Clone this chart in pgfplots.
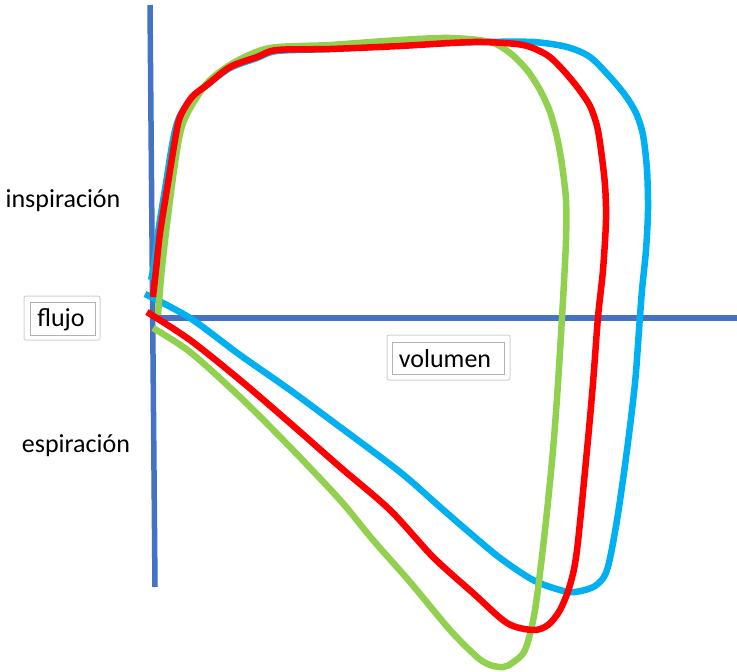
\documentclass[border=0pt]{standalone}
\usepackage{pgfplots}
\pgfplotsset{compat=1.18}
\usepackage{fontspec}
\setmainfont{Carlito}

\definecolor{ejeazul}{HTML}{4472C4}
\definecolor{cian}{HTML}{00B0F0}
\definecolor{rojo}{HTML}{FF0000}
\definecolor{verde}{HTML}{92D050}

\begin{document}
\begin{tikzpicture}
\begin{axis}[
  width=737bp, height=672bp, scale only axis,
  xmin=0, xmax=737, ymin=0, ymax=672,
  y dir=reverse,
  axis lines=none,
  clip=true,
]
% ejes flujo / volumen
\addplot[ejeazul, line width=5.5bp] coordinates {(150,5) (155,587)};
\addplot[ejeazul, line width=5.5bp] coordinates {(150,318) (737,318)};

% curva azul
\addplot[cian, line width=6.5bp, smooth, tension=0.5] coordinates {
(151,280) (154,265) (158,233) (166,183) (173,140) (179,118) (192,98) (207,85)
(230,68) (257,58) (277,51) (330,49) (400,45) (450,43) (483,42) (533,42)
(567,47) (590,57) (610,77) (625,95) (636,113) (643,135) (647,170) (648,210)
(646,250) (642,290) (639,330) (635,383) (627,450) (617,520) (607,570) (595,586)
(575,592) (560,590) (533,580) (500,558) (470,533) (440,507) (400,472)
(340,427) (290,390) (240,355) (190,318) (145,294)};

% curva verde
\addplot[verde, line width=6.5bp, smooth, tension=0.5] coordinates {
(158,315) (162,267) (170,200) (177,150) (183,123) (195,100) (210,80) (235,62)
(270,48) (330,45) (400,40) (450,38) (490,42) (510,53) (527,70) (540,90)
(550,112) (557,137) (562,165) (566,200) (566,240) (563,300) (558,383) (553,450)
(545,530) (535,610) (525,650) (512,663) (503,667) (490,665) (477,657)
(450,630) (410,582) (373,540) (340,500) (290,447) (240,397) (190,352) (153,328)};

% curva roja
\addplot[rojo, line width=6.5bp, smooth, tension=0.5] coordinates {
(153,297) (156,270) (160,233) (168,183) (175,140) (180,117) (192,97) (207,85)
(230,67) (257,57) (277,50) (330,49) (400,46) (450,43) (483,42) (523,45)
(547,55) (563,70) (578,88) (590,106) (597,126) (601,150) (605,185) (606,220)
(603,270) (598,317) (593,383) (587,450) (577,550) (570,585) (560,610)
(548,625) (533,630) (507,623) (473,593) (433,557) (390,510) (340,467)
(290,423) (240,380) (190,340) (147,312)};

% rotulos
\node[anchor=base, font=\fontsize{26bp}{30bp}\selectfont] at (63,207) {inspiración};
\node[anchor=base, font=\fontsize{26bp}{30bp}\selectfont] at (76,452) {espiración};

\draw[black!18, line width=1bp, rounded corners=2bp] (24,296) rectangle (100,340);
\draw[black!30, line width=0.8bp] (30,302) rectangle (95,335);
\node[anchor=base, font=\fontsize{26bp}{30bp}\selectfont] at (61,326) {flujo};

\draw[black!18, line width=1bp, rounded corners=2bp] (387,335) rectangle (510,380);
\draw[black!30, line width=0.8bp] (392,342) rectangle (504,374);
\node[anchor=base, font=\fontsize{26bp}{30bp}\selectfont] at (445,367) {volumen};
\end{axis}
\pgfresetboundingbox
\path (current axis.south west) rectangle (current axis.north east);
\end{tikzpicture}
\end{document}
